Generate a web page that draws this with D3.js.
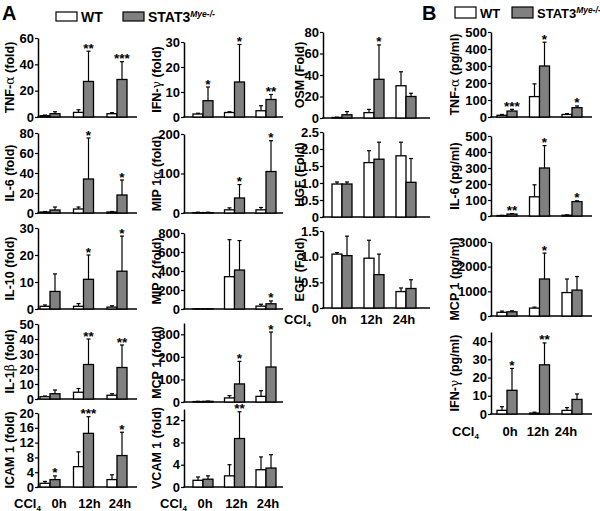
<!DOCTYPE html>
<html><head><meta charset="utf-8">
<script src="https://cdn.jsdelivr.net/npm/d3@7"></script>
<style>
body{margin:0;background:#fff}
svg{display:block}
text{font-family:"Liberation Sans",Arial,sans-serif;font-weight:bold;fill:#000}
</style>
</head><body>
<svg id="c" width="600" height="511"></svg>
<script>
const categories = ["0h","12h","24h"];
const groups = ["WT","STAT3"];

// ---- Panel A ----
const tnfA_wt=[1,3.5,2.5],   tnfA_wtErr=[0.5,2,0.8],   tnfA_ko=[2.5,27,28.5], tnfA_koErr=[1.5,23,13.5], tnfA_stars=["","**","***"], tnfA_ticks=[0,20,40,60];
const ifnA_wt=[1.2,1.8,2.5], ifnA_wtErr=[0.3,0.3,2],   ifnA_ko=[6.5,14,7],    ifnA_koErr=[5.5,15,2],    ifnA_stars=["*","*","**"], ifnA_ticks=[0,10,20,30];
const osm_wt=[0.5,5,30],     osm_wtErr=[0.3,3,13],     osm_ko=[3,36,20],      osm_koErr=[3,32,3],       osm_stars=["","*",""], osm_ticks=[0,20,40,60,80];
const il6A_wt=[1,4,1],       il6A_wtErr=[0.5,2,0.5],   il6A_ko=[3,34,18],     il6A_koErr=[3,41,15],     il6A_stars=["","*","*"], il6A_ticks=[0,20,40,60,80];
const mip1a_wt=[1,8,8],      mip1a_wtErr=[1,5,6],      mip1a_ko=[1,38,105],   mip1a_koErr=[1,34,78],    mip1a_stars=["","*","*"], mip1a_ticks=[0,100,200];
const hgf_wt=[0.97,1.6,1.8], hgf_wtErr=[0.06,0.35,0.4],hgf_ko=[0.97,1.7,1.02],hgf_koErr=[0.06,0.5,0.7], hgf_stars=["","",""], hgf_ticks=[0,0.5,1.0,1.5,2.0,2.5];
const il10_wt=[1,1,0.7],     il10_wtErr=[0.5,1,0.5],   il10_ko=[6.5,11,14],   il10_koErr=[6.5,9,13],    il10_stars=["","*","*"], il10_ticks=[0,10,20,30];
const mip2_wt=[2,340,30],    mip2_wtErr=[2,390,20],    mip2_ko=[2,410,55],    mip2_koErr=[2,310,30],    mip2_stars=["","","*"], mip2_ticks=[0,200,400,600,800];
const egf_wt=[1.05,0.97,0.32],egf_wtErr=[0.03,0.35,0.07],egf_ko=[1.02,0.65,0.38],egf_koErr=[0.38,0.4,0.17],egf_stars=["","",""], egf_ticks=[0,0.5,1.0,1.5];
const il1b_wt=[1.5,4.5,2.5], il1b_wtErr=[0.5,2.5,1],   il1b_ko=[3.5,23,21],   il1b_koErr=[2.5,17,15],   il1b_stars=["","**","**"], il1b_ticks=[0,10,20,30,40,50];
const mcp1A_wt=[2,18,25],    mcp1A_wtErr=[1,10,25],    mcp1A_ko=[3,80,155],   mcp1A_koErr=[1,100,155],  mcp1A_stars=["","*","*"], mcp1A_ticks=[0,100,200,300];
const icam_wt=[1,5.5,2],     icam_wtErr=[0.5,4,1.3],   icam_ko=[2,14.5,8.5],  icam_koErr=[1,4.5,6.3],   icam_stars=["*","***","*"], icam_ticks=[0,4,8,12,16,20];
const vcam_wt=[1.2,2,3.1],   vcam_wtErr=[0.6,2,2.3],   vcam_ko=[1.4,8.7,3.4], vcam_koErr=[0.6,4.8,2.4], vcam_stars=["","**",""], vcam_ticks=[0,4,8,12];
// ---- Panel B ----
const tnfB_wt=[10,120,15],   tnfB_wtErr=[5,75,5],      tnfB_ko=[35,300,55],   tnfB_koErr=[10,140,10],   tnfB_stars=["***","*","*"], tnfB_ticks=[0,100,200,300,400,500];
const il6B_wt=[3,120,5],     il6B_wtErr=[1,75,2],      il6B_ko=[12,300,90],   il6B_koErr=[3,140,5],     il6B_stars=["**","*","*"], il6B_ticks=[0,100,200,300,400,500];
const mcp1B_wt=[150,320,950],mcp1B_wtErr=[50,40,550],  mcp1B_ko=[170,1500,1050],mcp1B_koErr=[40,1050,550],mcp1B_stars=["","*",""], mcp1B_ticks=[0,1000,2000,3000];
const ifnB_wt=[2,0.5,2],     ifnB_wtErr=[2,0.5,1.5],   ifnB_ko=[13,27,8],     ifnB_koErr=[12,12,3],     ifnB_stars=["*","**",""], ifnB_ticks=[0,10,20,30,40];

const svg = d3.select("#c");
const GRAY = "#808080";

function panel(o){
  const g = svg.append("g");
  const y = d3.scaleLinear().domain([0,o.max]).range([o.y0,o.y1]);
  const x = d3.scalePoint().domain(categories).range([o.c0,o.c2]);
  const bw = o.bw || 10;
  const tf = o.dec ? (d=> d===0?"0":d3.format(".1f")(d)) : (d=>String(d));
  const ax = g.append("g").attr("transform",`translate(${o.x0},0)`)
    .call(d3.axisLeft(y).tickValues(o.ticks).tickSize(3).tickSizeOuter(0).tickPadding(1).tickFormat(tf));
  ax.select(".domain").attr("stroke","#000").attr("stroke-width",1.5);
  ax.selectAll(".tick line").attr("stroke","#000").attr("stroke-width",1.2);
  ax.selectAll(".tick text").style("font-size","13px").style("font-weight","bold").attr("fill","#000");
  g.append("line").attr("x1",o.x0-0.75).attr("x2",o.x1).attr("y1",o.y0).attr("y2",o.y0).attr("stroke","#000").attr("stroke-width",1.5);
  const rows = categories.map((c,i)=>({c, wt:o.wt[i], we:o.wtErr[i], ko:o.ko[i], ke:o.koErr[i], s:o.stars[i]}));
  rows.forEach(r=>{
    [[r.wt,r.we,x(r.c)-bw/2],[r.ko,r.ke,x(r.c)+bw/2]].forEach(([v,e,cx])=>{
      g.append("line").attr("x1",cx).attr("x2",cx).attr("y1",y(v)).attr("y2",y(v+e)).attr("stroke","#000").attr("stroke-width",1.2);
      g.append("line").attr("x1",cx-2).attr("x2",cx+2).attr("y1",y(v+e)).attr("y2",y(v+e)).attr("stroke","#000").attr("stroke-width",1.2);
    });
  });
  g.selectAll("rect.wt").data(rows).join("rect").attr("class","wt")
    .attr("x",d=>x(d.c)-bw).attr("width",bw).attr("y",d=>y(d.wt)).attr("height",d=>o.y0-y(d.wt))
    .attr("fill","#fff").attr("stroke","#000").attr("stroke-width",1.3);
  g.selectAll("rect.ko").data(rows).join("rect").attr("class","ko")
    .attr("x",d=>x(d.c)).attr("width",bw).attr("y",d=>y(d.ko)).attr("height",d=>o.y0-y(d.ko))
    .attr("fill",GRAY).attr("stroke","#000").attr("stroke-width",1.3);
  g.selectAll("text.st").data(rows).join("text").attr("class","st")
    .attr("x",d=>x(d.c)+bw/2).attr("y",d=>y(d.ko+d.ke)+1.5).attr("text-anchor","middle")
    .style("font-size","13.5px").text(d=>d.s);
  const t = g.append("text").attr("transform",`translate(${o.lx},${(o.y0+o.y1)/2}) rotate(-90)`)
    .attr("text-anchor","middle").style("font-size","12.5px");
  o.label.forEach(([s,greek])=>{
    const ts=t.append("tspan").text(s);
    if(greek) ts.style("font-family","'DejaVu Serif',serif").style("font-weight","normal").style("font-size","12.5px");
  });
}

function xLabels(cl, catRange, ly){
  const sc = d3.scalePoint().domain(categories).range(catRange);
  const t = svg.append("text").attr("x",cl).attr("y",ly).style("font-size","13px").text("CCl");
  t.append("tspan").attr("dy",2.5).style("font-size","8px").text("4");
  svg.selectAll(null).data(categories).join("text").attr("x",d=>sc(d)).attr("y",ly)
    .attr("text-anchor","middle").style("font-size","13px").text(d=>d);
}

const P = (n)=>({wt:eval(n+"_wt"),wtErr:eval(n+"_wtErr"),ko:eval(n+"_ko"),koErr:eval(n+"_koErr"),stars:eval(n+"_stars"),ticks:eval(n+"_ticks")});

// column 1
const c1={x0:38,x1:137,c0:50,c2:117,lx:14};
panel({...c1,...P("tnfA"),max:60,y0:117,y1:38,label:[["TNF-"],["α",1],[" (fold)"]]});
panel({...c1,...P("il6A"),max:80,y0:213,y1:133,label:[["IL-6 (fold)"]]});
panel({...c1,...P("il10"),max:30,y0:309,y1:228,label:[["IL-10 (fold)"]]});
panel({...c1,...P("il1b"),max:50,y0:399,y1:324,label:[["IL-1"],["β",1],[" (fold)"]]});
panel({...c1,...P("icam"),max:20,y0:487,y1:413,label:[["ICAM 1 (fold)"]]});
xLabels(14,[59,120],508);
// column 2
const c2={x0:184,x1:283,c0:203,c2:266,lx:161};
panel({...c2,...P("ifnA"),max:30,y0:117,y1:42,label:[["IFN-"],["γ",1],[" (fold)"]]});
panel({...c2,...P("mip1a"),max:200,y0:213,y1:134,label:[["MIP 1"],["α",1],[" (fold)"]]});
panel({...c2,...P("mip2"),max:800,y0:309,y1:233,label:[["MIP 2 (fold)"]]});
panel({...c2,...P("mcp1A"),max:350,y0:402,y1:323,label:[["MCP 1 (fold)"]]});
panel({...c2,...P("vcam"),max:14,y0:487,y1:409,label:[["VCAM 1 (fold)"]]});
xLabels(160,[205,268],508);
// column 3
const c3={x0:323,x1:430,c0:342,c2:406,lx:304};
panel({...c3,...P("osm"),max:80,y0:118,y1:32,label:[["OSM (Fold)"]]});
panel({...c3,...P("hgf"),max:2.5,y0:217,y1:132,dec:1,label:[["HGF (Fold)"]]});
panel({...c3,...P("egf"),max:1.5,y0:308,y1:231,dec:1,label:[["EGF (Fold)"]]});
xLabels(284,[339,404],324);
// column 4 (B)
const c4={x0:491,x1:592,c0:507,c2:572,lx:459};
panel({...c4,...P("tnfB"),max:500,y0:117,y1:32,label:[["TNF-"],["α",1],[" (pg/ml)"]]});
panel({...c4,...P("il6B"),max:500,y0:216,y1:136,label:[["IL-6 (pg/ml)"]]});
panel({...c4,...P("mcp1B"),max:3000,y0:316,y1:242,label:[["MCP 1 (pg/ml)"]]});
panel({...c4,...P("ifnB"),max:45,y0:414,y1:332,label:[["IFN-"],["γ",1],[" (pg/ml)"]]});
xLabels(452,[510,566],436);

// panel letters and legends
svg.append("text").attr("x",2).attr("y",20).style("font-size","20px").text("A");
svg.append("text").attr("x",422).attr("y",20).style("font-size","20px").text("B");
function legend(x,y,gap,h,fs){
  svg.append("rect").attr("x",x).attr("y",y).attr("width",21).attr("height",h).attr("fill","#fff").attr("stroke","#000").attr("stroke-width",1.2);
  svg.append("text").attr("x",x+25).attr("y",y+h/2+5).style("font-size",fs+"px").text(groups[0]);
  svg.append("rect").attr("x",x+gap).attr("y",y).attr("width",21).attr("height",h).attr("fill",GRAY).attr("stroke","#000").attr("stroke-width",1.2);
  const t=svg.append("text").attr("x",x+gap+25).attr("y",y+h/2+5).style("font-size",fs+"px").text(groups[1]);
  t.append("tspan").attr("dy",-5).style("font-size","8.5px").style("font-style","italic").text("Mye-/-");
}
legend(56,12,67,9,14);
legend(455,7,57,11,13);
</script>
</body></html>
